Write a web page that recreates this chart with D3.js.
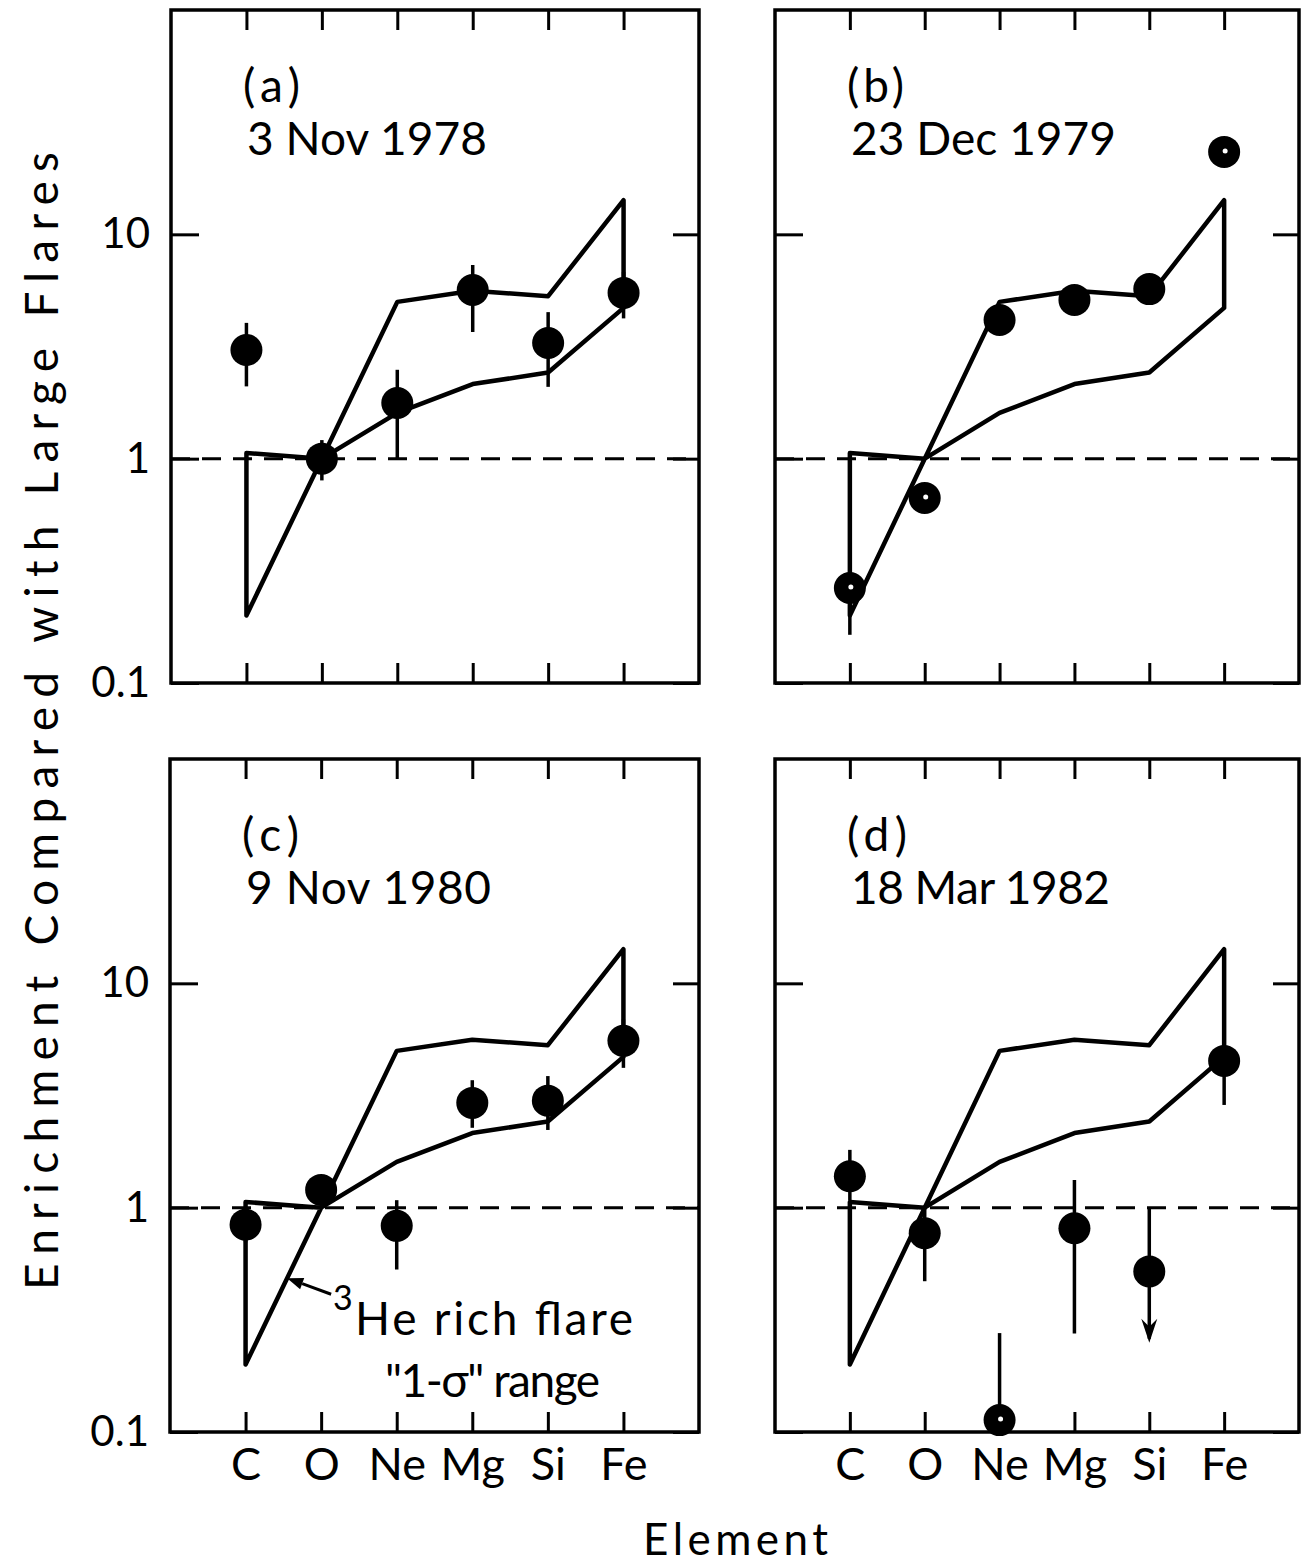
<!DOCTYPE html>
<html><head><meta charset="utf-8">
<script src="https://cdn.jsdelivr.net/npm/d3@7"></script>
<style>
body{margin:0;background:#fff}
text{font-family:Lato,"DejaVu Sans",sans-serif;fill:#000}
</style>
</head><body>
<svg id="chart" width="1307" height="1568"></svg>
<script>
// ---------- data ----------
const elements = ["C", "O", "Ne", "Mg", "Si", "Fe"];
const yTickValues = [0.1, 1, 10];
const yTickLabels = ["0.1", "1", "10"];

// 3He-rich flare "1-sigma" range (same in every panel)
const bandUpper = [1.06, 1.0, 5.0, 5.6, 5.3, 14.2];
const bandLower = [0.2, 1.0, 1.6, 2.15, 2.42, 4.7];

const panelLetters = ["(a)", "(b)", "(c)", "(d)"];
const panelDates = ["3 Nov 1978", "23 Dec 1979", "9 Nov 1980", "18 Mar 1982"];

// (a) 3 Nov 1978
const valuesA = [3.05, 1.0, 1.77, 5.65, 3.28, 5.48];
const errLowA = [2.1, 0.8, 1.0, 3.67, 2.09, 4.22];
const errHighA = [4.03, 1.21, 2.49, 7.3, 4.5, 6.8];
// (b) 23 Dec 1979
const valuesB = [0.265, 0.668, 4.15, 5.1, 5.7, 23.3];
const errLowB = [0.164, null, null, null, null, null];
const errHighB = [0.3, null, null, null, null, null];
// (c) 9 Nov 1980
const valuesC = [0.84, 1.2, 0.83, 2.93, 3.0, 5.54];
const errLowC = [0.7, null, 0.53, 2.27, 2.22, 4.2];
const errHighC = [1.0, null, 1.08, 3.7, 3.86, 6.9];
// (d) 18 Mar 1982
const valuesD = [1.38, 0.77, 0.113, 0.81, 0.52, 4.51];
const errLowD = [1.08, 0.47, null, 0.275, null, 2.87];
const errHighD = [1.81, 1.0, 0.276, 1.33, null, 6.0];
const upperLimitD = [false, false, false, false, true, false];
const limitFromD = [null, null, null, null, 1.0, null];
const limitToD = [null, null, null, null, 0.25, null];

// ---------- layout ----------
const layout = [
  {x0: 171, x1: 699, y0: 10, y1: 683},
  {x0: 775, x1: 1299, y0: 10, y1: 683},
  {x0: 170, x1: 699, y0: 759, y1: 1432},
  {x0: 775, x1: 1299, y0: 759, y1: 1432}
];
const letterWidths = [57, 57, 57, 60];
const dateWidths = [240, 265, 245, 259];
const panels = [
  {values: valuesA, lo: errLowA, hi: errHighA, dots: [false,false,false,false,false,false]},
  {values: valuesB, lo: errLowB, hi: errHighB, dots: [true,true,false,false,false,true]},
  {values: valuesC, lo: errLowC, hi: errHighC, dots: [false,false,false,false,false,false]},
  {values: valuesD, lo: errLowD, hi: errHighD, dots: [false,false,true,false,false,false],
   limit: upperLimitD, limFrom: limitFromD, limTo: limitToD}
];

const svg = d3.select("#chart");
const FONT = "Lato,'DejaVu Sans',sans-serif";

panels.forEach((p, k) => {
  const L = layout[k];
  const x = d3.scaleLinear().domain([0, 7]).range([L.x0, L.x1]);
  const y = d3.scaleLog().domain([0.1, 100]).range([L.y1, L.y0]);
  const g = svg.append("g");
  const left = (k % 2 === 0), bottom = (k >= 2);
  const idx = d3.range(elements.length);

  const styleAxis = sel => {
    sel.select(".domain").remove();
    sel.selectAll(".tick line").attr("stroke", "#000").attr("stroke-width", 3);
    sel.selectAll(".tick text").attr("fill", "#000");
  };
  g.append("g").attr("transform", `translate(0,${L.y0})`)
    .call(d3.axisTop(x).tickValues(idx.map(i => i + 1)).tickSize(-20).tickFormat(""))
    .call(styleAxis);
  const xb = g.append("g").attr("transform", `translate(0,${L.y1})`)
    .call(d3.axisBottom(x).tickValues(idx.map(i => i + 1)).tickSize(-20).tickPadding(16)
      .tickFormat(bottom ? (d => elements[d - 1]) : ""))
    .call(styleAxis);
  xb.selectAll(".tick text").style("font-size", "45px").style("font-family", FONT);
  const yl = g.append("g").attr("transform", `translate(${L.x0},0)`)
    .call(d3.axisLeft(y).tickValues(yTickValues).tickSize(-28).tickPadding(21)
      .tickFormat(left ? ((d, i) => yTickLabels[i]) : ""))
    .call(styleAxis);
  yl.selectAll(".tick text").style("font-size", "42px").style("font-family", FONT);
  g.append("g").attr("transform", `translate(${L.x1},0)`)
    .call(d3.axisRight(y).tickValues(yTickValues).tickSize(-26).tickFormat(""))
    .call(styleAxis);

  // frame
  g.append("rect").attr("x", L.x0).attr("y", L.y0)
    .attr("width", L.x1 - L.x0).attr("height", L.y1 - L.y0)
    .attr("fill", "none").attr("stroke", "#000").attr("stroke-width", 3.5);

  // dashed reference line at 1
  g.append("line").attr("x1", L.x0).attr("x2", L.x1)
    .attr("y1", y(1)).attr("y2", y(1))
    .attr("stroke", "#000").attr("stroke-width", 3).attr("stroke-dasharray", "19,12");

  // 3He-rich band polygon
  const poly = idx.map(i => [x(i + 1), y(bandUpper[i])])
    .concat(idx.slice().reverse().map(i => [x(i + 1), y(bandLower[i])]));
  g.append("path").attr("d", d3.line().curve(d3.curveLinearClosed)(poly))
    .attr("fill", "none").attr("stroke", "#000").attr("stroke-width", 4.5)
    .attr("stroke-linejoin", "round");

  // error bars
  idx.forEach(i => {
    if (p.lo[i] != null || p.hi[i] != null) {
      const a = p.lo[i] != null ? p.lo[i] : p.values[i];
      const b = p.hi[i] != null ? p.hi[i] : p.values[i];
      g.append("line").attr("x1", x(i + 1)).attr("x2", x(i + 1))
        .attr("y1", y(a)).attr("y2", y(b))
        .attr("stroke", "#000").attr("stroke-width", 3.5);
    }
    if (p.limit && p.limit[i]) {
      const tipY = y(p.limTo[i]);
      g.append("line").attr("x1", x(i + 1)).attr("x2", x(i + 1))
        .attr("y1", y(p.limFrom[i])).attr("y2", tipY - 4)
        .attr("stroke", "#000").attr("stroke-width", 3.5);
      const cx = x(i + 1);
      g.append("path")
        .attr("d", `M${cx},${tipY} L${cx - 8},${tipY - 24} L${cx},${tipY - 16} L${cx + 8},${tipY - 24} Z`)
        .attr("fill", "#000");
    }
  });

  // data markers
  g.selectAll("circle.pt").data(idx).join("circle").attr("class", "pt")
    .attr("cx", i => x(i + 1)).attr("cy", i => y(p.values[i]))
    .attr("r", 16).attr("fill", "#000");
  g.selectAll("circle.dot").data(idx.filter(i => p.dots[i])).join("circle").attr("class", "dot")
    .attr("cx", i => x(i + 1) + 1).attr("cy", i => y(p.values[i]) - 1)
    .attr("r", 2.5).attr("fill", "#fff");

  // panel labels
  g.append("text").attr("x", L.x0 + 72).attr("y", L.y0 + 92)
    .style("font-size", "46px").attr("textLength", letterWidths[k]).attr("lengthAdjust", "spacing")
    .text(panelLetters[k]);
  g.append("text").attr("x", L.x0 + 76).attr("y", L.y0 + 145)
    .style("font-size", "46px").attr("textLength", dateWidths[k]).attr("lengthAdjust", "spacing")
    .text(panelDates[k]);

  // annotation in panel (c)
  if (k === 2) {
    const t = 0.55;
    const tipX = x(1 + t);
    const tipY = y(Math.pow(10, Math.log10(bandLower[0]) * (1 - t) + Math.log10(bandLower[1]) * t));
    const tailX = tipX + 44, tailY = tipY + 16;
    const ang = Math.atan2(tipY - tailY, tipX - tailX);
    const hl = 16, hw = 6;
    const bx = tipX - hl * Math.cos(ang), by = tipY - hl * Math.sin(ang);
    g.append("line").attr("x1", tailX).attr("y1", tailY).attr("x2", bx).attr("y2", by)
      .attr("stroke", "#000").attr("stroke-width", 3);
    g.append("path").attr("d",
      `M${tipX},${tipY} L${bx + hw * Math.sin(ang)},${by - hw * Math.cos(ang)} L${bx - hw * Math.sin(ang)},${by + hw * Math.cos(ang)} Z`)
      .attr("fill", "#000");
    g.append("text").attr("x", 333).attr("y", 1310).style("font-size", "34px").text("3");
    g.append("text").attr("x", 355).attr("y", 1335).style("font-size", "46px")
      .attr("textLength", 278).attr("lengthAdjust", "spacing").text("He rich flare");
    g.append("text").attr("x", 385).attr("y", 1397).style("font-size", "46px")
      .attr("textLength", 215).attr("lengthAdjust", "spacing").text("\"1-σ\" range");
  }
});

// axis titles
svg.append("text").attr("transform", "translate(58,721) rotate(-90)")
  .attr("text-anchor", "middle").style("font-size", "46px")
  .attr("textLength", 1138).attr("lengthAdjust", "spacing")
  .text("Enrichment Compared with Large Flares");
svg.append("text").attr("x", 643).attr("y", 1555).style("font-size", "44px")
  .attr("textLength", 185).attr("lengthAdjust", "spacing").text("Element");
</script>
</body></html>
